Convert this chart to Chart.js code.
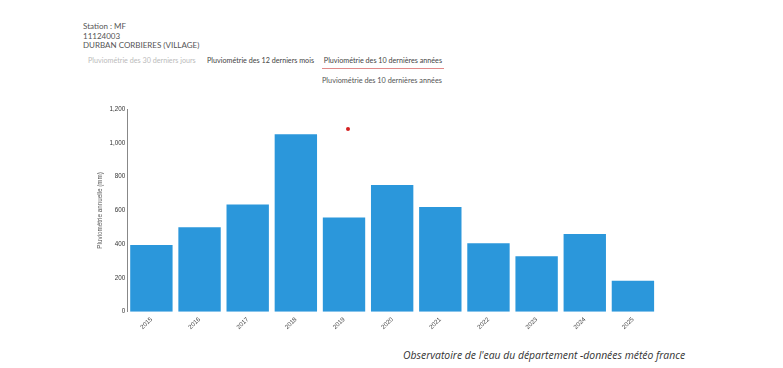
<!DOCTYPE html>
<html>
<head>
  <meta charset="utf-8">
  <title>Pluviométrie - DURBAN CORBIERES</title>
  <script src="https://cdn.jsdelivr.net/npm/chart.js@4.4.0/dist/chart.umd.min.js"></script>
  <style>
    body { margin: 0; background: #fff; font-family: Lato, "Open Sans", sans-serif; }
    #page { position: relative; width: 783px; height: 368px; overflow: hidden; }
    .station { position: absolute; left: 83px; top: 22px; font-size: 8px; line-height: 9.5px; color: #555; }
    .tabs { position: absolute; top: 56px; font-size: 7.2px; color: #444; white-space: nowrap; }
    .tab-off { color: #bbb; }
    .tab-on { border-bottom: 1.5px solid #e08a8a; padding-bottom: 3px; }
    .subtitle { position: absolute; left: 322px; top: 76px; font-size: 7.3px; color: #555; }
    .chart-box { position: absolute; left: 92px; top: 100px; width: 570px; height: 235px; }
    .source { position: absolute; left: 403px; top: 348px; font-size: 10.4px; font-style: italic; color: #333; font-family: "Open Sans", sans-serif; }
    .dot { position: absolute; left: 346px; top: 127px; width: 4px; height: 4px; border-radius: 50%; background: #d42020; }
  </style>
</head>
<body>
<div id="page">
  <div class="station">Station : MF<br>11124003<br>DURBAN CORBIERES (VILLAGE)</div>
  <div class="tabs tab-off" style="left:88px">Pluviométrie des 30 derniers jours</div>
  <div class="tabs" style="left:207px">Pluviométrie des 12 derniers mois</div>
  <div class="tabs tab-on" style="left:322px">&nbsp;Pluviométrie des 10 dernières années&nbsp;</div>
  <div class="subtitle">Pluviométrie des 10 dernières années</div>
  <div class="chart-box"><canvas id="rainChart" width="570" height="235"></canvas></div>
  <div class="dot"></div>
  <div class="source">Observatoire de l'eau du département -données météo france</div>
</div>

<script>
  // Années et cumul annuel (mm)
  const years = ['2015', '2016', '2017', '2018', '2019', '2020', '2021', '2022', '2023', '2024', '2025'];
  const rainfall = [395, 500, 635, 1050, 558, 750, 620, 406, 328, 460, 184];
  const yTicks = [0, 200, 400, 600, 800, 1000, 1200];

  const tickFont = { family: 'Liberation Sans, Arial, sans-serif', size: 6.3 };

  const rainChart = new Chart(document.getElementById('rainChart'), {
    type: 'bar',
    data: {
      labels: years,
      datasets: [{
        label: 'Pluviométrie annuelle (mm)',
        data: rainfall,
        backgroundColor: '#2b97db',
        categoryPercentage: 1,
        barPercentage: 0.88
      }]
    },
    options: {
      responsive: false,
      animation: false,
      layout: { padding: { top: 9, right: 5 } },
      plugins: { legend: { display: false }, tooltip: { enabled: false } },
      scales: {
        x: {
          grid: { display: false, drawTicks: false },
          border: { display: false },
          ticks: { font: tickFont, color: '#444', padding: 4, minRotation: 45, maxRotation: 45 }
        },
        y: {
          min: 0,
          max: 1200,
          afterBuildTicks: (axis) => { axis.ticks = yTicks.map(v => ({ value: v })); },
          grid: { display: false, drawTicks: false },
          border: { display: true, color: '#888' },
          ticks: {
            font: tickFont,
            color: '#333',
            padding: 2,
            callback: (v) => v.toLocaleString('en-US')
          },
          title: {
            display: true,
            text: 'Pluviométrie annuelle (mm)',
            font: tickFont,
            color: '#555'
          }
        }
      }
    }
  });
</script>
</body>
</html>
